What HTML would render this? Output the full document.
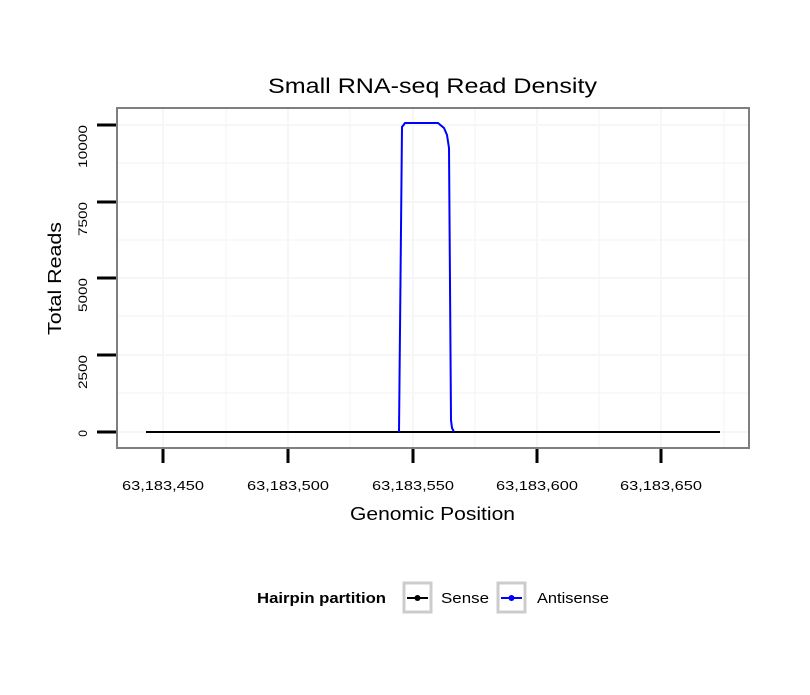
<!DOCTYPE html>
<html><head><style>body{margin:0;background:#fff}</style></head><body>
<svg width="810" height="690" xmlns="http://www.w3.org/2000/svg" font-family="Liberation Sans, sans-serif">
<rect width="810" height="690" fill="#fff"/>
<g stroke="#f3f3f3" stroke-width="1">
<line x1="226" y1="108" x2="226" y2="448"/><line x1="350" y1="108" x2="350" y2="448"/><line x1="475" y1="108" x2="475" y2="448"/><line x1="599" y1="108" x2="599" y2="448"/><line x1="724" y1="108" x2="724" y2="448"/>
<line x1="117" y1="393" x2="749" y2="393"/><line x1="117" y1="316" x2="749" y2="316"/><line x1="117" y1="240" x2="749" y2="240"/><line x1="117" y1="163" x2="749" y2="163"/>
</g>
<g stroke="#f6f6f6" stroke-width="2">
<line x1="163" y1="108" x2="163" y2="448"/><line x1="288" y1="108" x2="288" y2="448"/><line x1="413" y1="108" x2="413" y2="448"/><line x1="537" y1="108" x2="537" y2="448"/><line x1="661" y1="108" x2="661" y2="448"/>
<line x1="117" y1="432" x2="749" y2="432"/><line x1="117" y1="355" x2="749" y2="355"/><line x1="117" y1="278" x2="749" y2="278"/><line x1="117" y1="202" x2="749" y2="202"/><line x1="117" y1="125" x2="749" y2="125"/>
</g>
<line x1="146" y1="432" x2="720" y2="432" stroke="#000" stroke-width="2"/>
<polyline points="399,432 402,127 405,123 438,123 444,128 447,135 449,148 451,420 452,428 454,432" fill="none" stroke="#0000ff" stroke-width="2"/>
<rect x="117" y="108" width="632" height="340" fill="none" stroke="#7f7f7f" stroke-width="2"/>
<g stroke="#000" stroke-width="3">
<line x1="163" y1="449" x2="163" y2="463"/><line x1="288" y1="449" x2="288" y2="463"/><line x1="413" y1="449" x2="413" y2="463"/><line x1="537" y1="449" x2="537" y2="463"/><line x1="661" y1="449" x2="661" y2="463"/>
<line x1="97" y1="432" x2="116" y2="432"/><line x1="97" y1="355" x2="116" y2="355"/><line x1="97" y1="278" x2="116" y2="278"/><line x1="97" y1="202" x2="116" y2="202"/><line x1="97" y1="125" x2="116" y2="125"/>
</g>
<g font-size="13" fill="#000">
<text x="122" y="490" textLength="82" lengthAdjust="spacingAndGlyphs">63,183,450</text>
<text x="247" y="490" textLength="82" lengthAdjust="spacingAndGlyphs">63,183,500</text>
<text x="372" y="490" textLength="82" lengthAdjust="spacingAndGlyphs">63,183,550</text>
<text x="496" y="490" textLength="82" lengthAdjust="spacingAndGlyphs">63,183,600</text>
<text x="620" y="490" textLength="82" lengthAdjust="spacingAndGlyphs">63,183,650</text>
</g>
<g font-size="12" text-anchor="end" fill="#000">
<text transform="translate(87,430) rotate(-90)">0</text>
<text transform="translate(87,355) rotate(-90)" textLength="34" lengthAdjust="spacingAndGlyphs">2500</text>
<text transform="translate(87,278) rotate(-90)" textLength="34" lengthAdjust="spacingAndGlyphs">5000</text>
<text transform="translate(87,202) rotate(-90)" textLength="34" lengthAdjust="spacingAndGlyphs">7500</text>
<text transform="translate(87,125) rotate(-90)" textLength="43" lengthAdjust="spacingAndGlyphs">10000</text>
</g>
<text x="268" y="93" font-size="21" textLength="329" lengthAdjust="spacingAndGlyphs">Small RNA-seq Read Density</text>
<text x="350" y="520" font-size="18" textLength="165" lengthAdjust="spacingAndGlyphs">Genomic Position</text>
<text transform="translate(61,335) rotate(-90)" font-size="18" textLength="113" lengthAdjust="spacingAndGlyphs">Total Reads</text>
<text x="257" y="603" font-size="15" font-weight="bold" textLength="129" lengthAdjust="spacingAndGlyphs">Hairpin partition</text>
<rect x="404" y="583" width="27" height="29" fill="#fff" stroke="#cccccc" stroke-width="3"/>
<line x1="407" y1="598" x2="428" y2="598" stroke="#000" stroke-width="2"/><circle cx="417.5" cy="598" r="3" fill="#000"/>
<text x="441" y="603" font-size="15" textLength="48" lengthAdjust="spacingAndGlyphs">Sense</text>
<rect x="498" y="583" width="27" height="29" fill="#fff" stroke="#cccccc" stroke-width="3"/>
<line x1="501" y1="598" x2="522" y2="598" stroke="#0000ff" stroke-width="2"/><circle cx="511.5" cy="598" r="3" fill="#0000ff"/>
<text x="537" y="603" font-size="15" textLength="72" lengthAdjust="spacingAndGlyphs">Antisense</text>
</svg>
</body></html>
